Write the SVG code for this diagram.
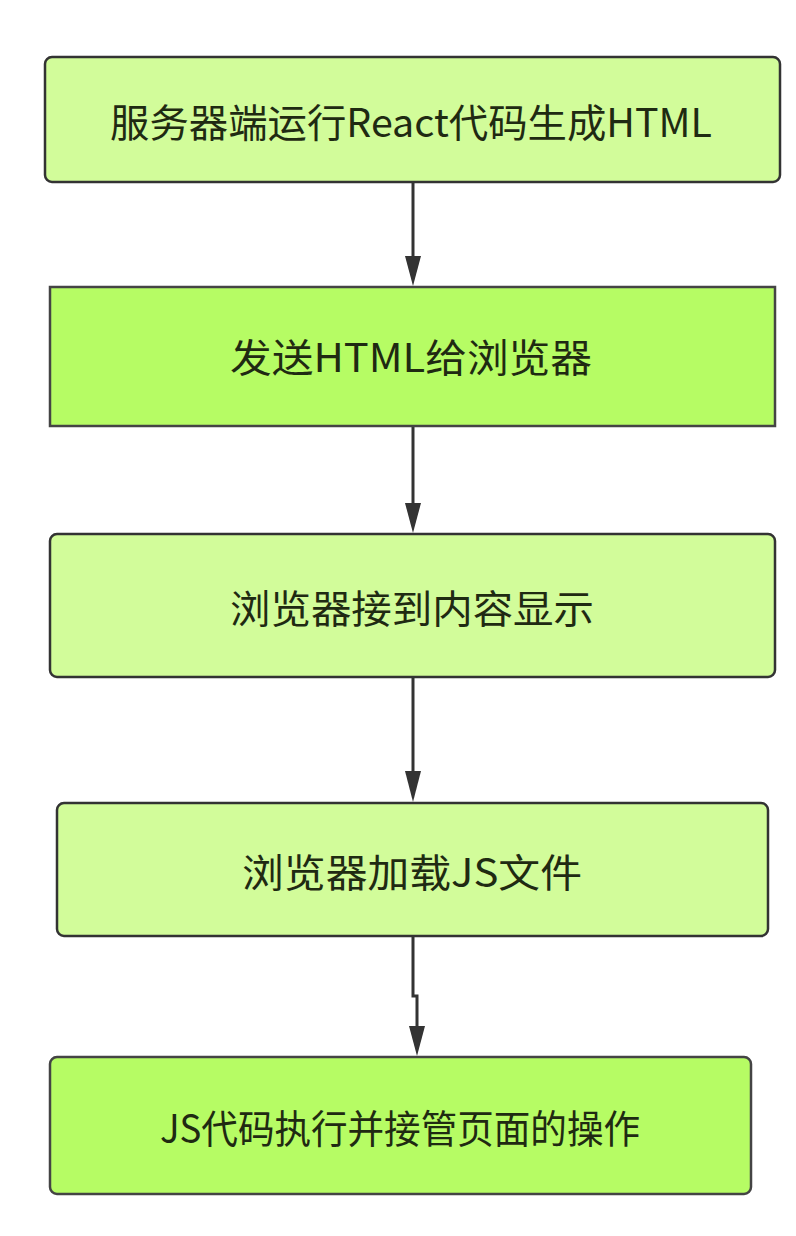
<svg xmlns="http://www.w3.org/2000/svg" width="796" height="1236" viewBox="0 0 796 1236">
<defs>
<style>
.light{fill:#d2fc9a;stroke:#333;stroke-width:2.5}
.bright{fill:#b6fc64;stroke:#444;stroke-width:2.5}
.t{font-family:"Noto Sans CJK SC","Noto Sans",sans-serif;font-size:39px;fill:#1f2a12;text-anchor:middle}
.c{stroke:#333;stroke-width:3;fill:none}
</style>
<marker id="ah" markerWidth="16" markerHeight="30" refX="8" refY="30" orient="auto-start-reverse" markerUnits="userSpaceOnUse" viewBox="0 0 16 30">
<path d="M0,0 L16,0 L8,30 Z" fill="#333" transform="rotate(0)"/>
</marker>
</defs>
<rect width="796" height="1236" fill="#fff"/>
<g id="connectors">
<path class="c" d="M413,182 V257"/>
<path d="M405,256 L421,256 L413,286 Z" fill="#333"/>
<path class="c" d="M413,426 V504"/>
<path d="M405,503 L421,503 L413,533 Z" fill="#333"/>
<path class="c" d="M413,677 V772"/>
<path d="M405,771 L421,771 L413,802 Z" fill="#333"/>
<path class="c" d="M413,936 V996 H417 V1027"/>
<path d="M409,1026 L425,1026 L417,1056 Z" fill="#333"/>
</g>
<g id="node1">
<rect class="light" x="45" y="57" width="735" height="125" rx="7"/>
<text class="t" x="411" y="137" textLength="602" lengthAdjust="spacingAndGlyphs">服务器端运行React代码生成HTML</text>
</g>
<g id="node2">
<rect class="bright" x="50" y="287" width="725" height="139"/>
<text class="t" x="411" y="372" textLength="362" lengthAdjust="spacingAndGlyphs">发送HTML给浏览器</text>
</g>
<g id="node3">
<rect class="light" x="50" y="534" width="725" height="143" rx="7"/>
<text class="t" x="412" y="623" textLength="364" lengthAdjust="spacingAndGlyphs">浏览器接到内容显示</text>
</g>
<g id="node4">
<rect class="light" x="57" y="803" width="711" height="133" rx="7"/>
<text class="t" x="412" y="887" textLength="340" lengthAdjust="spacingAndGlyphs">浏览器加载JS文件</text>
</g>
<g id="node5">
<rect class="bright" x="50" y="1057" width="701" height="137" rx="7"/>
<text class="t" x="400" y="1143" textLength="480" lengthAdjust="spacingAndGlyphs">JS代码执行并接管页面的操作</text>
</g>
</svg>
